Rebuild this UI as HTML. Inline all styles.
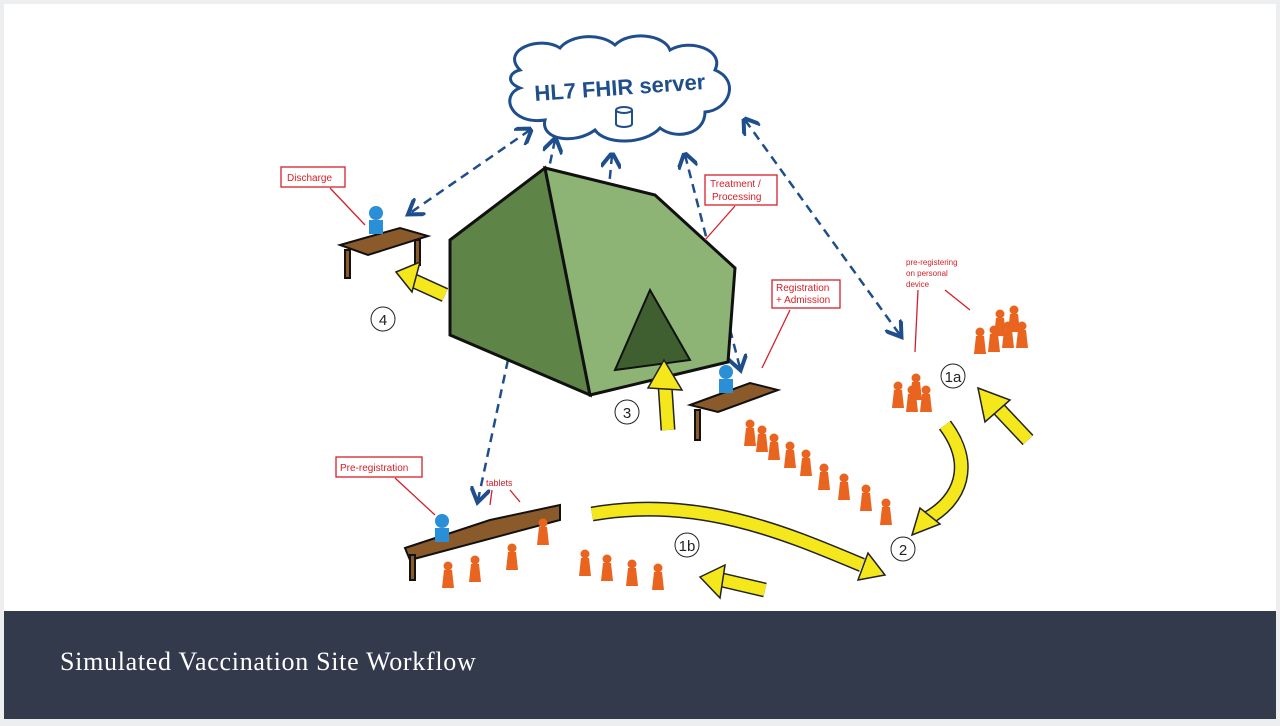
<!DOCTYPE html>
<html><head><meta charset="utf-8"><style>
html,body{margin:0;padding:0;background:#f0f0f0;}
#f{position:relative;width:1280px;height:726px;overflow:hidden;background:#eceef0;}
#w{position:absolute;left:4px;top:4px;width:1272px;height:607px;background:#fff;}
#b{position:absolute;left:4px;top:611px;width:1272px;height:108px;background:#323a4c;}
#t{position:absolute;left:60px;top:647px;color:#fff;font-family:"Liberation Serif",serif;font-size:26px;letter-spacing:0.7px;}
svg{position:absolute;left:0;top:0}
</style></head><body><div id="f"><div id="w"></div><div id="b"></div>
<div id="t">Simulated Vaccination Site Workflow</div>
<svg width="1280" height="611" viewBox="0 0 1280 611">
<defs>
<marker id="a" markerWidth="8" markerHeight="8" refX="5" refY="4" orient="auto"><path d="M0,0 L6,4 L0,8" fill="none" stroke="#1f4e8c" stroke-width="1.6"/></marker>
<marker id="s" markerWidth="8" markerHeight="8" refX="1" refY="4" orient="auto"><path d="M6,0 L0,4 L6,8" fill="none" stroke="#1f4e8c" stroke-width="1.6"/></marker>
<g id="p"><circle cx="0" cy="-14" r="4.5" fill="#e8641f"/><path d="M-4,-10 L4,-10 L6,8 L-6,8 Z" fill="#e8641f"/></g>
</defs>
<path d="M520,70 C500,50 540,35 560,48 C570,35 600,32 615,45 C630,30 665,35 670,50 C690,38 725,50 715,70 C740,80 730,110 705,112 C705,135 675,140 660,128 C645,145 605,145 595,130 C575,145 540,140 545,120 C510,125 500,95 520,88 C505,82 510,72 520,70 Z" fill="#fff" stroke="#1f4e8c" stroke-width="3"/>
<text x="620" y="95" text-anchor="middle" font-family="Liberation Sans,sans-serif" font-weight="bold" font-size="22" fill="#1f4e8c" transform="rotate(-4 620 90)">HL7 FHIR server</text>
<ellipse cx="624" cy="110" rx="8" ry="3" fill="none" stroke="#1f4e8c" stroke-width="2"/>
<path d="M616,110 V124 A8,3 0 0 0 632,124 V110" fill="none" stroke="#1f4e8c" stroke-width="2"/>
<g stroke="#1f4e8c" stroke-width="2.5" stroke-dasharray="9,6" fill="none" marker-end="url(#a)" marker-start="url(#s)">
<line x1="530" y1="130" x2="410" y2="213"/>
<line x1="612" y1="155" x2="605" y2="230"/>
<line x1="555" y1="140" x2="478" y2="500"/>
<line x1="685" y1="155" x2="740" y2="368"/>
<line x1="745" y1="120" x2="900" y2="335"/>
</g>
<path d="M450,240 L545,168 L590,395 L450,335 Z" fill="#5e8448" stroke="#111" stroke-width="3"/>
<path d="M545,168 L655,195 L735,268 L728,362 L590,395 Z" fill="#8db475" stroke="#111" stroke-width="3"/>
<path d="M650,290 L615,370 L690,360 Z" fill="#3f5f30" stroke="#111" stroke-width="2"/>
<g fill="#8b5a2b" stroke="#111" stroke-width="2">
<path d="M340,245 L400,228 L428,236 L368,255 Z"/><rect x="345" y="250" width="5" height="28"/><rect x="415" y="240" width="5" height="25"/>
<path d="M690,405 L750,383 L778,390 L718,412 Z"/><rect x="695" y="410" width="5" height="30"/>
<path d="M405,548 L490,520 L560,505 L560,520 L410,560 Z"/><rect x="410" y="555" width="5" height="25"/>
</g>
<g fill="#2a8fd6"><circle cx="376" cy="213" r="7"/><rect x="369" y="220" width="14" height="14"/>
<circle cx="726" cy="372" r="7"/><rect x="719" y="379" width="14" height="14"/>
<circle cx="442" cy="521" r="7"/><rect x="435" y="528" width="14" height="14"/></g>
<!-- yellow arrows: outline + fill stroke, heads as polygons -->
<g fill="none" stroke-linecap="butt">
<g stroke="#222" stroke-width="15">
<path d="M445,295 L412,280"/><path d="M668,430 L665,385"/><path d="M1028,440 L995,405"/>
<path d="M945,425 C975,465 960,500 928,518"/><path d="M592,514 C700,495 790,535 862,565"/><path d="M765,590 L722,580"/>
</g>
<g stroke="#f4e81c" stroke-width="12">
<path d="M445,295 L412,280"/><path d="M668,430 L665,385"/><path d="M1028,440 L995,405"/>
<path d="M945,425 C975,465 960,500 928,518"/><path d="M592,514 C700,495 790,535 862,565"/><path d="M765,590 L722,580"/>
</g>
</g>
<g fill="#f4e81c" stroke="#222" stroke-width="1.5">
<path d="M396,272 L420,262 L412,292 Z"/>
<path d="M664,360 L682,390 L648,388 Z"/>
<path d="M978,388 L1010,400 L985,422 Z"/>
<path d="M912,535 L920,508 L940,524 Z"/>
<path d="M885,575 L868,553 L858,580 Z"/>
<path d="M700,577 L725,565 L720,598 Z"/>
</g>
<g font-family="Liberation Sans,sans-serif" font-size="15" fill="#222" stroke="#222" text-anchor="middle">
<circle cx="383" cy="319" r="12" fill="none"/><text x="383" y="325" stroke="none">4</text>
<circle cx="627" cy="412" r="12" fill="none"/><text x="627" y="418" stroke="none">3</text>
<circle cx="953" cy="376" r="12" fill="none"/><text x="953" y="382" stroke="none">1a</text>
<circle cx="903" cy="549" r="12" fill="none"/><text x="903" y="555" stroke="none">2</text>
<circle cx="687" cy="545" r="12" fill="none"/><text x="687" y="551" stroke="none">1b</text>
</g>
<g>
<use href="#p" x="750" y="438"/><use href="#p" x="762" y="444"/><use href="#p" x="774" y="452"/><use href="#p" x="790" y="460"/><use href="#p" x="806" y="468"/><use href="#p" x="824" y="482"/><use href="#p" x="844" y="492"/><use href="#p" x="866" y="503"/><use href="#p" x="886" y="517"/>
<use href="#p" x="898" y="400"/><use href="#p" x="912" y="404"/><use href="#p" x="926" y="404"/><use href="#p" x="916" y="392"/>
<use href="#p" x="980" y="346"/><use href="#p" x="994" y="344"/><use href="#p" x="1008" y="340"/><use href="#p" x="1022" y="340"/><use href="#p" x="1000" y="328"/><use href="#p" x="1014" y="324"/>
<use href="#p" x="585" y="568"/><use href="#p" x="607" y="573"/><use href="#p" x="632" y="578"/><use href="#p" x="658" y="582"/>
<use href="#p" x="448" y="580"/><use href="#p" x="475" y="574"/><use href="#p" x="512" y="562"/><use href="#p" x="543" y="537"/>
</g>
<g font-family="Liberation Sans,sans-serif" font-size="10" fill="#d4202a">
<rect x="281" y="167" width="64" height="20" fill="#fff" stroke="#d4202a" stroke-width="1.3"/><text x="287" y="181">Discharge</text>
<rect x="705" y="175" width="72" height="30" fill="#fff" stroke="#d4202a" stroke-width="1.3"/><text x="710" y="187">Treatment /</text><text x="712" y="200">Processing</text>
<rect x="772" y="280" width="68" height="28" fill="#fff" stroke="#d4202a" stroke-width="1.3"/><text x="776" y="291">Registration</text><text x="776" y="303">+ Admission</text>
<rect x="336" y="457" width="86" height="20" fill="#fff" stroke="#d4202a" stroke-width="1.3"/><text x="340" y="471">Pre-registration</text>
<text x="486" y="486" font-size="9">tablets</text>
<text x="906" y="265" font-size="8">pre-registering</text><text x="906" y="276" font-size="8">on personal</text><text x="906" y="287" font-size="8">device</text>
</g>
<g stroke="#d4202a" stroke-width="1.3" fill="none">
<path d="M330,188 L365,225"/><path d="M735,206 L705,240"/><path d="M790,310 L762,368"/><path d="M395,478 L435,515"/>
<path d="M492,490 L490,505"/><path d="M510,490 L520,502"/><path d="M918,290 L915,352"/><path d="M945,290 L970,310"/>
</g>
</svg></div></body></html>
